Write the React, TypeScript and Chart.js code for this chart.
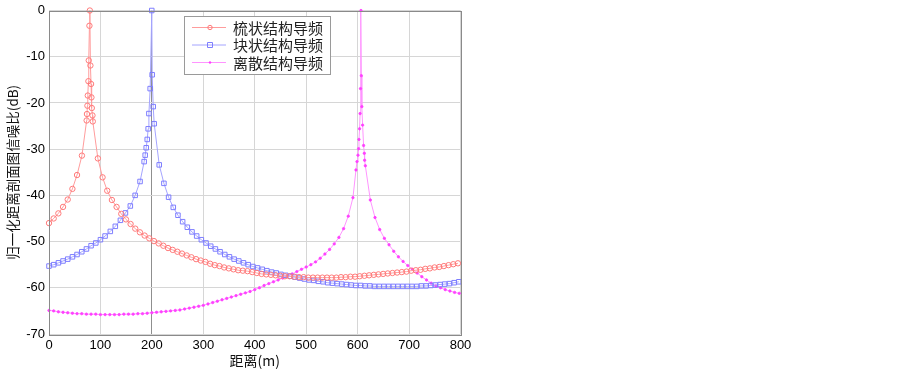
import React, { useEffect, useRef } from "react";
import { Chart, registerables } from "chart.js";

Chart.register(...registerables);

// ---- data ----
const xTicks = [0, 100, 200, 300, 400, 500, 600, 700, 800];
const yTicks = [0, -10, -20, -30, -40, -50, -60, -70];

const seriesNames = ["梳状结构导频", "块状结构导频", "离散结构导频"];

const combX = [0, 9.1, 18.2, 27.3, 36.4, 45.5, 54.5, 64,
  73.2, 73.8, 74.7, 75.4, 76.6, 77.3, 78.6, 79.4,
  80.5, 81.8, 82.5, 83.2, 84.5, 85.1,
  95, 104.1, 113.2, 122.3, 131.4, 140.5, 149.6, 158.6, 167.7, 176.8,
  185.9, 195, 204.1, 213.2, 222.3, 231.4, 240.5, 249.6, 258.6, 267.7,
  276.8, 285.9, 295, 304.1, 313.2, 322.3, 331.4, 340.5, 349.6, 358.6,
  367.7, 376.8, 385.9, 395, 404.1, 413.2, 422.3, 431.4, 440.5, 449.6,
  458.6, 467.7, 476.8, 485.9, 495, 504.1, 513.2, 522.3, 531.4, 540.5,
  549.6, 558.6, 567.7, 576.8, 585.9, 595, 604.1, 613.2, 622.3, 631.4,
  640.5, 649.6, 658.6, 667.7, 676.8, 685.9, 695, 704.1, 713.2, 722.3,
  731.4, 740.5, 749.6, 758.6, 767.7, 776.8, 785.9, 795];
const combY = [-46.0, -45.0, -43.9, -42.5, -40.9, -38.6, -35.6, -31.4,
  -23.8, -22.4, -20.6, -18.4, -15.3, -10.8, -3.3, 0,
  -11.9, -15.9, -18.8, -21.1, -22.7, -24.0,
  -32.0, -36.1, -39.0, -41.0, -42.5, -44.0, -45.2, -46.2, -47.2, -48.0,
  -48.7, -49.3, -49.9, -50.4, -50.9, -51.4, -51.8, -52.2, -52.6, -53.0,
  -53.4, -53.8, -54.1, -54.4, -54.8, -55.1, -55.3, -55.6, -55.8, -56.0,
  -56.2, -56.3, -56.4, -56.6, -56.8, -57.0, -57.1, -57.2, -57.3, -57.4,
  -57.5, -57.5, -57.6, -57.7, -57.7, -57.8, -57.8, -57.8, -57.8, -57.8,
  -57.8, -57.8, -57.7, -57.7, -57.6, -57.6, -57.5, -57.4, -57.3, -57.2,
  -57.1, -57.0, -56.9, -56.8, -56.7, -56.6, -56.5, -56.3, -56.2, -56.1,
  -55.9, -55.8, -55.6, -55.5, -55.3, -55.1, -54.9, -54.7];

const blockX = [0, 9.2, 18.3, 27.3, 36.4, 45.6, 54.5, 63.7, 72.8, 81.8,
  91, 100, 109, 119.2, 128.9, 138.8, 148.6, 158.1, 167.5, 177,
  185, 187, 189, 191, 192.8, 194.2, 196.7, 199.8, 200.6, 202.6, 204.5,
  214.3, 223.4, 232.5, 241.6, 250.7, 259.8, 268.9, 278, 287.1, 296.2,
  305.3, 314.4, 323.5, 332.6, 341.7, 350.8, 359.9, 369, 378.1, 387.2,
  396.3, 405.4, 414.5, 423.6, 432.7, 441.8, 450.9, 460, 469.1, 478.2,
  487.3, 496.4, 505.5, 514.6, 523.7, 532.8, 541.9, 551, 560.1, 569.2,
  578.3, 587.4, 596.5, 605.6, 614.7, 623.8, 632.9, 642, 651.1, 660.2,
  669.3, 678.4, 687.5, 696.6, 705.7, 714.8, 723.9, 733, 742.1, 751.2,
  760.3, 769.4, 778.5, 787.6, 796.7];
const blockY = [-55.3, -55.0, -54.6, -54.2, -53.8, -53.3, -52.8, -52.2, -51.6, -50.9,
  -50.3, -49.6, -48.8, -47.8, -46.7, -45.4, -43.8, -42.3, -40.0, -37.0,
  -32.7, -31.3, -29.7, -27.9, -25.6, -22.3, -16.9, 0, -13.9, -20.8, -24.5,
  -33.4, -37.4, -40.4, -42.6, -44.3, -45.7, -46.9, -47.9, -48.8, -49.6,
  -50.3, -51.0, -51.6, -52.2, -52.8, -53.3, -53.8, -54.2, -54.6, -55.0,
  -55.4, -55.7, -56.0, -56.3, -56.6, -56.8, -57.1, -57.3, -57.5, -57.7,
  -57.9, -58.1, -58.3, -58.4, -58.6, -58.7, -58.9, -59.0, -59.1, -59.2,
  -59.3, -59.4, -59.5, -59.5, -59.6, -59.6, -59.7, -59.7, -59.7, -59.7,
  -59.7, -59.7, -59.7, -59.7, -59.7, -59.7, -59.6, -59.6, -59.5, -59.4,
  -59.3, -59.2, -59.1, -58.9, -58.7];

const discX = [0, 9.1, 18.2, 27.3, 36.4, 45.5, 54.5, 63.6, 72.7, 81.8,
  90.9, 100, 109.1, 118.2, 127.3, 136.4, 145.5, 154.5, 163.6, 172.7,
  181.8, 190.9, 200, 209.1, 218.2, 227.3, 236.4, 245.5, 254.5, 263.6,
  272.7, 281.8, 290.9, 300, 309.1, 318.2, 327.3, 336.4, 345.5, 354.5,
  363.6, 372.7, 381.8, 390.9, 400, 409.1, 418.2, 427.3, 436.4, 445.5,
  454.5, 463.6, 472.7, 481.8, 490.9, 500, 509.1, 518.2, 527.3, 536.4,
  545.5, 554.5, 563.6, 572.7, 581.8, 590.9,
  596.8, 598.8, 600.7, 601.9, 602.6, 603.8, 604.8, 605.6, 606.5,
  607.2, 608.2, 609.7, 611.6, 613, 613.6, 615,
  624.7, 633.8, 642.9, 652, 661.1, 670.2, 679.3, 688.4, 697.5, 706.6,
  715.7, 724.8, 733.9, 743, 752.1, 761.2, 770.3, 779.4, 788.5, 797.6];
const discY = [-64.9, -65.0, -65.2, -65.3, -65.4, -65.5, -65.6, -65.6, -65.7, -65.7,
  -65.7, -65.8, -65.8, -65.8, -65.8, -65.8, -65.7, -65.7, -65.7, -65.6,
  -65.6, -65.5, -65.4, -65.3, -65.2, -65.1, -65.0, -64.9, -64.8, -64.6,
  -64.4, -64.2, -64.0, -63.8, -63.5, -63.2, -62.9, -62.6, -62.3, -62.0,
  -61.7, -61.4, -61.1, -60.8, -60.4, -60.0, -59.5, -59.1, -58.7, -58.3,
  -57.9, -57.4, -57.0, -56.5, -56.0, -55.5, -55.0, -54.4, -53.6, -52.7,
  -51.7, -50.5, -49.1, -47.2, -44.5, -40.5,
  -34.5, -32.7, -31.3, -29.9, -27.9, -25.6, -22.3, -16.9, 0,
  -14.1, -20.8, -24.8, -29.2, -30.9, -32.4, -33.6,
  -41.0, -44.8, -47.4, -49.3, -50.7, -52.1, -53.3, -54.3, -55.2, -56.0,
  -56.8, -57.6, -58.3, -59.0, -59.6, -60.0, -60.4, -60.7, -61.0, -61.2];

// ---- styles ----
const lineColors = ["#ff9c9c", "#a4a4ff", "#ff94ff"];
const markColors = ["#ff7a7a", "#7e7eff", "#ff40ff"];

function zip(xs: number[], ys: number[]) {
  const n = Math.min(xs.length, ys.length);
  const out: { x: number; y: number }[] = [];
  for (let i = 0; i < n; i++) out.push({ x: xs[i], y: ys[i] });
  return out;
}

const frameAndLegend = {
  id: "frameAndLegend",
  afterDraw(chart: any) {
    const { ctx, chartArea } = chart;
    ctx.save();
    // axes box
    ctx.strokeStyle = "#8a8a8a";
    ctx.lineWidth = 1;
    ctx.strokeRect(
      Math.round(chartArea.left) + 0.5,
      Math.round(chartArea.top) + 0.5,
      Math.round(chartArea.right - chartArea.left),
      Math.round(chartArea.bottom - chartArea.top)
    );
    // legend
    const bx = 184.5, by = 16.5, bw = 146, bh = 58;
    ctx.fillStyle = "#ffffff";
    ctx.fillRect(bx, by, bw, bh);
    ctx.strokeStyle = "#9a9a9a";
    ctx.strokeRect(bx, by, bw, bh);
    const rows = [27, 44.5, 62];
    ctx.font = '15px "Noto Sans CJK SC"';
    ctx.textBaseline = "middle";
    ctx.textAlign = "left";
    rows.forEach((ry, i) => {
      ctx.strokeStyle = lineColors[i];
      ctx.lineWidth = 1;
      ctx.beginPath();
      ctx.moveTo(192, ry + 0.5);
      ctx.lineTo(226, ry + 0.5);
      ctx.stroke();
      ctx.strokeStyle = markColors[i];
      ctx.fillStyle = markColors[i];
      ctx.beginPath();
      if (i === 0) {
        ctx.arc(210, ry + 0.5, 2.2, 0, Math.PI * 2);
        ctx.stroke();
      } else if (i === 1) {
        ctx.rect(207.5, ry - 2, 5, 5);
        ctx.stroke();
      } else {
        ctx.arc(210, ry + 0.5, 1.2, 0, Math.PI * 2);
        ctx.fill();
      }
      ctx.fillStyle = "#222222";
      ctx.fillText(seriesNames[i], 233, ry + 1);
    });
    ctx.restore();
  },
};

export default function App() {
  const canvasRef = useRef<HTMLCanvasElement | null>(null);

  useEffect(() => {
    const canvas = canvasRef.current;
    if (!canvas) return;
    const tickFont = { family: '"Liberation Sans", Arial, sans-serif', size: 13, lineHeight: 1 };
    const chart = new Chart(canvas, {
      type: "line",
      data: {
        datasets: [
          {
            label: seriesNames[0],
            data: zip(combX, combY),
            borderColor: lineColors[0],
            borderWidth: 1,
            pointStyle: "circle",
            pointRadius: 2.7,
            pointBorderWidth: 1,
            pointBorderColor: markColors[0],
            pointBackgroundColor: "rgba(0,0,0,0)",
            tension: 0,
            clip: 6,
          },
          {
            label: seriesNames[1],
            data: zip(blockX, blockY),
            borderColor: lineColors[1],
            borderWidth: 1,
            pointStyle: "rect",
            pointRadius: 3.2,
            pointBorderWidth: 1,
            pointBorderColor: markColors[1],
            pointBackgroundColor: "rgba(0,0,0,0)",
            tension: 0,
            clip: 6,
          },
          {
            label: seriesNames[2],
            data: zip(discX, discY),
            borderColor: lineColors[2],
            borderWidth: 1,
            pointStyle: "circle",
            pointRadius: 1.2,
            pointBorderWidth: 0.8,
            pointBorderColor: markColors[2],
            pointBackgroundColor: markColors[2],
            tension: 0,
            clip: 6,
          },
        ],
      },
      options: {
        responsive: false,
        animation: false,
        events: [],
        layout: { padding: { left: 0, top: 7, right: 442.5, bottom: 0 } },
        plugins: {
          legend: { display: false },
          tooltip: { enabled: false },
          title: { display: false },
        },
        scales: {
          x: {
            type: "linear",
            min: 0,
            max: 800,
            afterBuildTicks: (scale: any) => {
              scale.ticks = xTicks.map((v) => ({ value: v }));
            },
            afterFit: (scale: any) => {
              scale.height = 36;
            },
            ticks: {
              font: tickFont,
              color: "#000000",
              padding: 5,
              maxRotation: 0,
              autoSkip: false,
            },
            grid: {
              drawTicks: false,
              color: (c: any) => (c.tick && c.tick.value === 200 ? "#8f8f8f" : "#d6d6d6"),
              lineWidth: 1,
            },
            border: { display: false },
            title: {
              display: true,
              text: "距离(m)",
              font: { family: '"Noto Sans CJK SC"', size: 14, lineHeight: 1.2 },
              color: "#111111",
              padding: { top: 0, bottom: 1 },
            },
          },
          y: {
            type: "linear",
            min: -70,
            max: 0,
            afterBuildTicks: (scale: any) => {
              scale.ticks = yTicks.map((v) => ({ value: v }));
            },
            afterFit: (scale: any) => {
              scale.width = 49;
            },
            ticks: {
              font: tickFont,
              color: "#000000",
              padding: 4,
              autoSkip: false,
            },
            grid: {
              drawTicks: false,
              color: "#d6d6d6",
              lineWidth: 1,
            },
            border: { display: false },
            title: {
              display: true,
              text: "归一化距离剖面图信噪比(dB)",
              font: { family: '"Noto Sans CJK SC"', size: 13.5, lineHeight: 1.2 },
              color: "#111111",
              padding: { top: 5, bottom: 0 },
            },
          },
        },
      },
      plugins: [frameAndLegend],
    } as any);
    return () => chart.destroy();
  }, []);

  return (
    <div style={{ position: "fixed", left: 0, top: 0, width: 903, height: 370, background: "#ffffff" }}>
      <canvas ref={canvasRef} width={903} height={370} style={{ width: 903, height: 370, display: "block" }} />
    </div>
  );
}
